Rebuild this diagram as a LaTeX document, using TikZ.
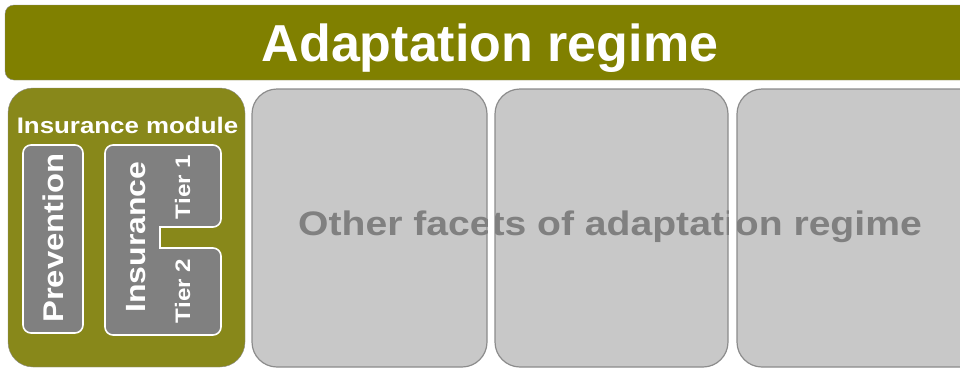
\documentclass[tikz,border=0pt]{standalone}
\usepackage{fontspec}
\setmainfont{Liberation Sans}
\newfontfamily\widefont[FakeStretch=1.15]{Liberation Sans}
\definecolor{bannerolive}{RGB}{128,128,0}
\definecolor{moduleolive}{RGB}{136,136,26}
\definecolor{facetgray}{RGB}{200,200,200}
\definecolor{facetline}{RGB}{140,140,140}
\definecolor{innergray}{RGB}{128,128,128}
\begin{document}
\begin{tikzpicture}
  [x=1pt,y=-1pt,
   regime/.style={rectangle,rounded corners=9pt,draw=facetline,fill=bannerolive,minimum width=970pt,minimum height=75pt,text=white,text depth=0pt,font=\fontsize{52}{52}\selectfont\bfseries},
   module/.style={rectangle,rounded corners=25pt,draw=facetline,fill=moduleolive,minimum width=237pt,minimum height=279pt},
   facet/.style={rectangle,rounded corners=25pt,draw=facetline,line width=1.2pt,fill=facetgray,minimum width=#1,minimum height=278pt},
   inbox/.style={draw=white,line width=1.6pt,fill=innergray},
   vlabel/.style={rotate=90,anchor=base,text=white,inner sep=0pt,font=\widefont\fontsize{#1}{#1}\selectfont\bfseries}]
  \useasboundingbox (0,0) rectangle (960,368);

  \node[regime] (regime) at (490,42.5) {Adaptation regime};

  \node[module] (module) at (126.5,227.5) {};
  \node[facet=235pt] (facet2) at (369.5,228) {};
  \node[facet=233pt] (facet3) at (611.5,228) {};
  \node[facet=248pt] (facet4) at (861,228) {};

  \begin{scope}
    \clip[rounded corners=25pt] (facet2.north west) rectangle (facet2.south east)
      (facet3.north west) rectangle (facet3.south east)
      (facet4.north west) rectangle (facet4.south east);
    \node[anchor=base,text=innergray,inner sep=0pt,font=\widefont\fontsize{34}{34}\selectfont\bfseries] (other) at (610,235) {Other facets of adaptation regime};
  \end{scope}

  \node[anchor=base,text=white,inner sep=0pt,font=\widefont\fontsize{22.5}{22.5}\selectfont\bfseries] (modtitle) at (127.5,133) {Insurance module};

  \node[inbox,rectangle,rounded corners=8pt,minimum width=60pt,minimum height=188pt] (prevbox) at (53,239) {};
  \draw[inbox,rounded corners=8pt] (105,240) -- (105,145) -- (221,145) -- (221,227) [sharp corners] -- (160,227) -- (160,248) [rounded corners=8pt] -- (221,248) -- (221,335) -- (105,335) -- cycle;
  \coordinate (insbox) at (163,240);

  \node[vlabel=28.5] (prevention) at (63,238) {Prevention};
  \node[vlabel=27.8] (insurance) at (145,237) {Insurance};
  \node[vlabel=21] (tier1) at (190,187) {Tier 1};
  \node[vlabel=21] (tier2) at (190,291) {Tier 2};

\end{tikzpicture}
\end{document}
